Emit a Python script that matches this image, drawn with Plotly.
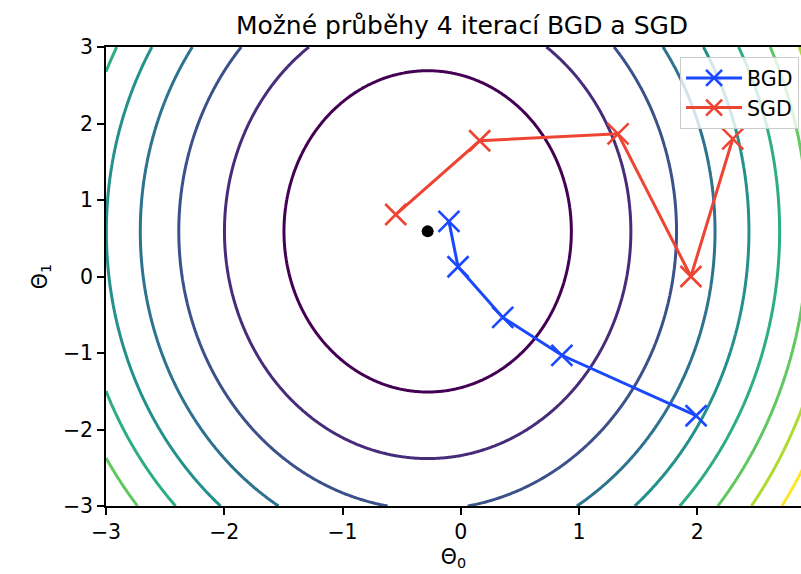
import numpy as np
import plotly.graph_objects as go

# Cost surface parameters (centre of ellipses, semi-axes of level 1)
center_theta0 = -0.28
center_theta1 = 0.59
semi_axis_theta0 = 1.215
semi_axis_theta1 = 2.10
contour_levels = [1, 2, 3, 4, 5, 6, 7, 8, 9]

# Trajectories (start + 4 iterations)
bgd_theta0 = [1.99, 0.855, 0.355, -0.023, -0.10]
bgd_theta1 = [-1.82, -1.03, -0.535, 0.127, 0.72]
sgd_theta0 = [2.30, 1.946, 1.33, 0.16, -0.55]
sgd_theta1 = [1.80, 0.0, 1.865, 1.774, 0.81]
optimum_theta0 = [-0.28]
optimum_theta1 = [0.59]

x_ticks = [-3, -2, -1, 0, 1, 2]
y_ticks = [-3, -2, -1, 0, 1, 2, 3]

t0 = np.linspace(-3, 3, 400)
t1 = np.linspace(-3, 3, 400)
T0, T1 = np.meshgrid(t0, t1)
Z = ((T0 - center_theta0) / semi_axis_theta0) ** 2 + ((T1 - center_theta1) / semi_axis_theta1) ** 2

FONT = "DejaVu Sans"
FS = 20.5
fig = go.Figure()
fig.add_trace(go.Contour(
    x=t0, y=t1, z=Z,
    contours=dict(start=contour_levels[0], end=contour_levels[-1], size=1, coloring="lines"),
    colorscale="Viridis", zmin=contour_levels[0], zmax=contour_levels[-1], zauto=False,
    line=dict(width=3, smoothing=1.3), showscale=False, showlegend=False, hoverinfo="skip",
))
fig.add_trace(go.Scatter(
    x=bgd_theta0, y=bgd_theta1, mode="lines+markers", name="BGD",
    line=dict(color="#1a48ff", width=3),
    marker=dict(symbol="x-thin", size=21, line=dict(color="#1a48ff", width=2.6)),
))
fig.add_trace(go.Scatter(
    x=sgd_theta0, y=sgd_theta1, mode="lines+markers", name="SGD",
    line=dict(color="#ee4433", width=3),
    marker=dict(symbol="x-thin", size=21, line=dict(color="#ee4433", width=2.6)),
))
fig.add_trace(go.Scatter(
    x=optimum_theta0, y=optimum_theta1, mode="markers", showlegend=False,
    marker=dict(color="black", size=12),
))

fig.update_layout(
    width=801, height=574,
    margin=dict(l=106, r=0, t=47, b=68),
    paper_bgcolor="white", plot_bgcolor="white",
    font=dict(family=FONT, size=FS, color="black"),
    title=dict(text="Možné průběhy 4 iterací BGD a SGD", x=462 / 801, xref="container",
               xanchor="center", y=1 - 25 / 574, yanchor="middle", yref="container",
               font=dict(family=FONT, size=25, color="black")),
    legend=dict(x=0.826, y=0.978, xanchor="left", yanchor="top",
                bgcolor="rgba(255,255,255,0.8)", bordercolor="#cccccc", borderwidth=1,
                font=dict(family=FONT, size=FS), itemwidth=56, tracegroupgap=0),
    showlegend=True,
)
fig.update_xaxes(
    range=[-3, 2.877], tickvals=x_ticks, ticktext=[("−" + str(-v)) if v < 0 else str(v) for v in x_ticks],
    showgrid=False, zeroline=False, showline=True, linecolor="black", linewidth=1.5, mirror=True,
    ticks="outside", ticklen=7, tickwidth=1.5, tickcolor="black",
    title=dict(text="Θ<sub>0</sub>", font=dict(family=FONT, size=FS), standoff=6),
)
fig.update_yaxes(
    range=[-3, 3], tickvals=y_ticks, ticktext=[("−" + str(-v)) if v < 0 else str(v) for v in y_ticks],
    showgrid=False, zeroline=False, showline=True, linecolor="black", linewidth=1.5, mirror=False,
    ticks="outside", ticklen=7, tickwidth=1.5, tickcolor="black",
    title=dict(text="Θ<sub>1</sub>", font=dict(family=FONT, size=FS), standoff=10),
)
fig.write_html("out.html")
